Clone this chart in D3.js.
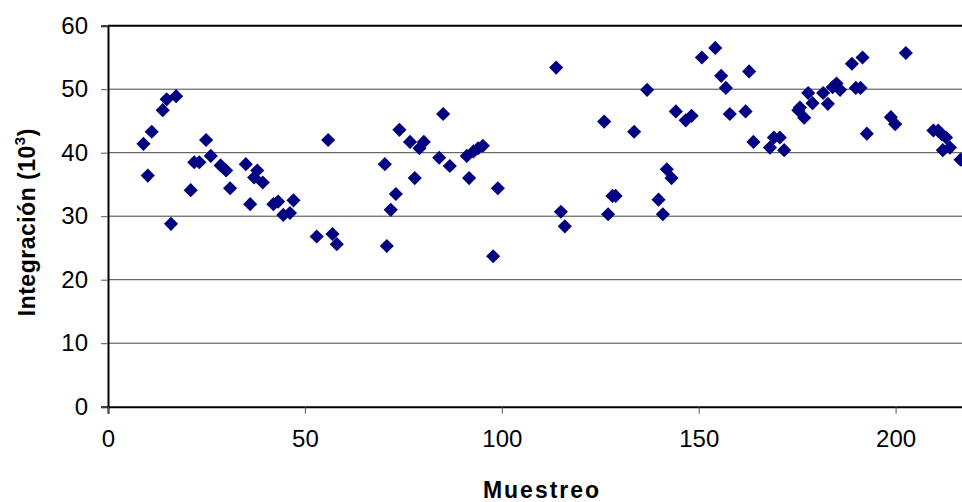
<!DOCTYPE html>
<html>
<head>
<meta charset="utf-8">
<script src="https://cdn.jsdelivr.net/npm/d3@7"></script>
<style>
  html, body { margin: 0; padding: 0; background: #fff; overflow: hidden; }
  svg { display: block; font-family: "Liberation Sans", Arial, sans-serif; }
</style>
</head>
<body>
<svg id="chart" width="962" height="502"></svg>
<script>
// Sample number (Muestreo)
const muestreo = [
  9.0, 10.1, 11.1, 13.9, 14.9, 16.0, 17.3, 21.0, 21.9, 23.2,
  24.9, 26.1, 28.6, 30.0, 31.0, 35.0, 36.1, 37.1, 37.9, 39.3,
  42.0, 43.2, 44.5, 46.2, 47.1, 53.0, 55.9, 57.0, 58.1, 70.3,
  70.8, 71.8, 73.1, 74.0, 76.7, 77.9, 79.1, 80.2, 84.1, 85.1,
  86.8, 91.1, 91.7, 92.8, 94.0, 95.2, 97.8, 99.0, 113.8, 115.0,
  116.0, 126.0, 127.0, 128.1, 128.9, 133.6, 136.9, 139.8, 140.9, 141.9,
  143.1, 144.2, 146.7, 148.2, 150.8, 154.2, 155.7, 156.9, 157.9, 161.9,
  162.8, 163.9, 168.1, 169.1, 170.6, 171.7, 175.3, 175.7, 176.8, 177.8,
  178.9, 181.6, 182.8, 184.0, 185.0, 185.9, 188.9, 189.9, 191.1, 191.6,
  192.7, 198.8, 199.9, 202.6, 209.6, 210.8, 211.7, 212.8, 212.0, 213.8,
  216.5
];
// Integration value (10^3)
const integracion = [
  41.4, 36.4, 43.3, 46.7, 48.4, 28.8, 48.9, 34.1, 38.5, 38.5,
  42.0, 39.5, 38.0, 37.2, 34.4, 38.2, 31.9, 36.1, 37.2, 35.3,
  31.9, 32.3, 30.2, 30.5, 32.5, 26.8, 42.0, 27.2, 25.6, 38.2,
  25.3, 31.0, 33.5, 43.6, 41.7, 36.0, 40.7, 41.7, 39.2, 46.1,
  37.9, 39.5, 36.0, 40.2, 40.7, 41.1, 23.7, 34.4, 53.4, 30.7,
  28.4, 44.9, 30.3, 33.2, 33.2, 43.3, 49.9, 32.6, 30.3, 37.4,
  36.0, 46.5, 45.1, 45.8, 55.0, 56.5, 52.1, 50.2, 46.1, 46.5,
  52.8, 41.7, 40.8, 42.4, 42.4, 40.4, 46.7, 47.1, 45.5, 49.4,
  47.8, 49.4, 47.7, 50.3, 50.9, 49.9, 54.0, 50.2, 50.2, 55.0,
  43.0, 45.6, 44.5, 55.7, 43.5, 43.5, 42.9, 42.4, 40.4, 40.8,
  38.9
];
const xTicks = [0, 50, 100, 150, 200];
const yTicks = [0, 10, 20, 30, 40, 50, 60];

const svg = d3.select("#chart");
const plotLeft = 108, plotTop = 25.7, plotBottom = 406.7;
const plotRight = plotLeft + 250 * 3.938;

const x = d3.scaleLinear().domain([0, 250]).range([plotLeft, plotRight]);
const y = d3.scaleLinear().domain([0, 60]).range([plotBottom, plotTop]);

// horizontal gridlines
svg.append("g")
  .selectAll("line")
  .data(yTicks.filter(v => v > 0 && v < 60))
  .join("line")
  .attr("x1", plotLeft).attr("x2", plotRight)
  .attr("y1", d => y(d)).attr("y2", d => y(d))
  .attr("stroke", "#444").attr("stroke-width", 1);

// top frame line
svg.append("line")
  .attr("x1", plotLeft).attr("x2", plotRight)
  .attr("y1", y(60)).attr("y2", y(60))
  .attr("stroke", "#000").attr("stroke-width", 2);

// y axis
const yAxis = svg.append("g")
  .attr("transform", `translate(${plotLeft},0)`)
  .call(d3.axisLeft(y).tickValues(yTicks).tickSize(7).tickPadding(13).tickFormat(d3.format("d")));
yAxis.select(".domain").attr("stroke", "#000").attr("stroke-width", 2);
yAxis.selectAll(".tick line").attr("stroke", "#555");
yAxis.selectAll(".tick text")
  .attr("font-family", "Liberation Sans, Arial, sans-serif")
  .attr("font-size", 24).attr("fill", "#000");

// x axis (line continues past the visible area)
const xAxis = svg.append("g")
  .attr("transform", `translate(0,${plotBottom})`)
  .call(d3.axisBottom(x).tickValues(xTicks).tickSize(7).tickPadding(16).tickFormat(d3.format("d")));
xAxis.select(".domain").attr("stroke", "#000").attr("stroke-width", 2);
xAxis.selectAll(".tick line").attr("stroke", "#555");
xAxis.selectAll(".tick text")
  .attr("font-family", "Liberation Sans, Arial, sans-serif")
  .attr("font-size", 24).attr("fill", "#000");

// data points: navy diamonds
const diamond = d3.symbol().type(d3.symbolSquare).size(100);
svg.append("g")
  .selectAll("path")
  .data(muestreo.map((m, i) => [m, integracion[i]]))
  .join("path")
  .attr("d", diamond)
  .attr("transform", d => `translate(${x(d[0])},${y(d[1])}) rotate(45)`)
  .attr("fill", "#000080");

// axis titles
svg.append("text")
  .attr("x", 542).attr("y", 498)
  .attr("text-anchor", "middle")
  .attr("font-size", 23).attr("font-weight", "bold")
  .attr("letter-spacing", 2)
  .text("Muestreo");

const yTitle = svg.append("text")
  .attr("transform", `translate(35,${(plotTop + plotBottom) / 2 + 6}) rotate(-90)`)
  .attr("text-anchor", "middle")
  .attr("font-size", 23).attr("font-weight", "bold")
  .attr("letter-spacing", 0.5);
yTitle.append("tspan").text("Integración (10");
yTitle.append("tspan").attr("font-size", 15).attr("dy", -10).text("3");
yTitle.append("tspan").attr("dy", 10).text(")");
</script>
</body>
</html>
